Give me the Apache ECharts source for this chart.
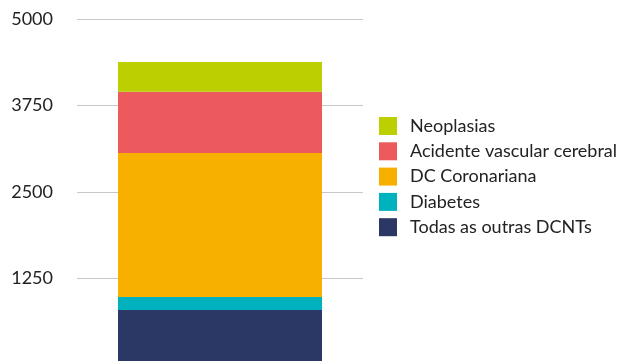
<!DOCTYPE html>
<html>
<head>
<meta charset="utf-8">
<script src="https://cdn.jsdelivr.net/npm/echarts@6/dist/echarts.min.js"></script>
<style>
html,body{margin:0;padding:0;background:#fff;overflow:hidden;}
#c{width:622px;height:372px;}
</style>
</head>
<body>
<div id="c"></div>
<script>
const categories = ['Total'];
const seriesNames = ['Todas as outras DCNTs', 'Diabetes', 'DC Coronariana', 'Acidente vascular cerebral', 'Neoplasias'];
const outrasDCNTs = [787];
const diabetes = [188];
const dcCoronariana = [2087];
const avc = [889];
const neoplasias = [430];
const yTicks = [0, 1250, 2500, 3750, 5000];
const colors = ['#2B3765', '#00B2BE', '#F7B000', '#EC5A5E', '#BCCF00'];

const valuesList = [outrasDCNTs, diabetes, dcCoronariana, avc, neoplasias];
const chart = echarts.init(document.getElementById('c'), null, {renderer: 'canvas'});
chart.setOption({
  animation: false,
  textStyle: {fontFamily: 'Lato'},
  grid: {left: 77, right: 259, top: 19.3, height: 345, containLabel: false},
  legend: {
    orient: 'vertical',
    left: 379,
    top: 117,
    padding: 0,
    itemWidth: 18,
    itemHeight: 18,
    itemGap: 7.3,
    icon: 'rect',
    data: seriesNames.slice().reverse(),
    textStyle: {fontFamily: 'Lato', fontSize: 18, lineHeight: 18, color: '#222', padding: [0, 0, 0, 8]}
  },
  xAxis: {
    type: 'category',
    data: categories,
    axisLine: {show: false},
    axisTick: {show: false},
    axisLabel: {show: false}
  },
  yAxis: {
    type: 'value',
    min: yTicks[0],
    max: yTicks[yTicks.length - 1],
    interval: yTicks[1] - yTicks[0],
    axisLine: {show: false},
    axisTick: {show: false},
    axisLabel: {
      margin: 24,
      fontFamily: 'Lato',
      fontSize: 18,
      color: '#222',
      formatter: v => v === 0 ? '' : String(v)
    },
    splitLine: {lineStyle: {color: '#c8c8c8', width: 1}}
  },
  series: seriesNames.map((n, i) => ({
    name: n,
    type: 'bar',
    stack: 'total',
    barWidth: 204,
    data: valuesList[i],
    itemStyle: {color: colors[i]}
  }))
});
</script>
</body>
</html>
